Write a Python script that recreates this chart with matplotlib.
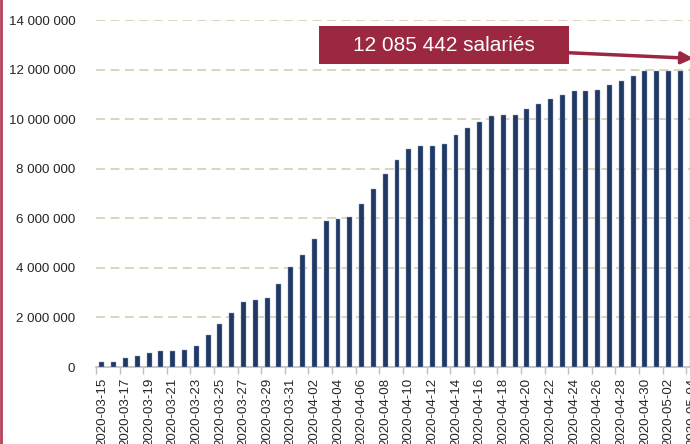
import matplotlib
matplotlib.use("Agg")
import matplotlib.pyplot as plt
from matplotlib.patches import Rectangle
from matplotlib.lines import Line2D
import pandas as pd

# cumulative number of employees (chomage partiel)
dates = pd.date_range("2020-03-15", "2020-05-04").strftime("%Y-%m-%d").tolist()
salaries = [
    190000, 190000, 350000, 460000, 560000, 660000, 660000, 670000, 860000, 1280000,
    1720000, 2180000, 2620000, 2700000, 2800000, 3360000, 4020000, 4530000, 5160000, 5890000,
    5980000, 6040000, 6590000, 7170000, 7770000, 8360000, 8790000, 8900000, 8930000, 8990000,
    9350000, 9640000, 9880000, 10120000, 10150000, 10170000, 10390000, 10600000, 10800000, 10970000,
    11130000, 11150000, 11160000, 11390000, 11550000, 11730000, 11950000, 11950000, 11960000, 11960000,
    12085442,
]
yticks = [0, 2000000, 4000000, 6000000, 8000000, 10000000, 12000000, 14000000]
annot_text = "12 085 442 salariés"

navy = "#1F3864"
wine = "#9B2740"
fnt = ["Liberation Sans", "DejaVu Sans"]

fig = plt.figure(figsize=(6.9, 4.44), dpi=100)
ax = fig.add_axes([96 / 690, 77 / 444, 602 / 690, 347 / 444])

x = list(range(len(dates)))
ax.bar(x, salaries, width=0.42, color=navy, edgecolor="#8FA3C0", linewidth=0.3, zorder=3)

ax.set_xlim(-0.5, len(dates) - 0.5)
ax.set_ylim(0, 14000000)

ax.set_yticks(yticks)
ax.set_yticklabels([f"{v:,}".replace(",", " ") for v in yticks], fontfamily=fnt,
                   fontsize=9.6, color="#262626")
ax.tick_params(axis="y", length=0, pad=15)
ax.yaxis.grid(True, color="#D8D3B8", linestyle=(0, (5, 3)), linewidth=1.3, zorder=0)

ax.set_xticks(x[::2])
ax.set_xticklabels(dates[::2], rotation=90, fontfamily=fnt, fontsize=9.6, color="#262626")
ax.set_xticks([i - 0.5 for i in x[::2]], minor=True)
ax.tick_params(axis="x", which="major", length=0, pad=8)
ax.tick_params(axis="x", which="minor", length=5, color="#BFBFBF", width=1)

for s in ["top", "right", "left"]:
    ax.spines[s].set_visible(False)
ax.spines["bottom"].set_color("#BFBFBF")
ax.spines["bottom"].set_linewidth(1.2)

# annotation box + arrow
ax.add_patch(Rectangle((18.35, 12.22e6), 21.2, 1.54e6, facecolor=wine, edgecolor="none",
                       zorder=5, clip_on=False))
ax.text(28.95, 12.99e6, annot_text, ha="center", va="center", color="white",
        fontsize=15, fontfamily=fnt, zorder=6)
ax.annotate("", xy=(50.1, 12.45e6), xytext=(39.5, 12.68e6),
            arrowprops=dict(arrowstyle="-|>,head_length=0.7,head_width=0.35",
                            color=wine, lw=2.5, shrinkA=0, shrinkB=0),
            zorder=5, annotation_clip=False)

# left frame line
fig.add_artist(Line2D([0.002, 0.002], [0, 1], color="#B8405C", lw=2, transform=fig.transFigure))

fig.savefig("out.png", dpi=100)
